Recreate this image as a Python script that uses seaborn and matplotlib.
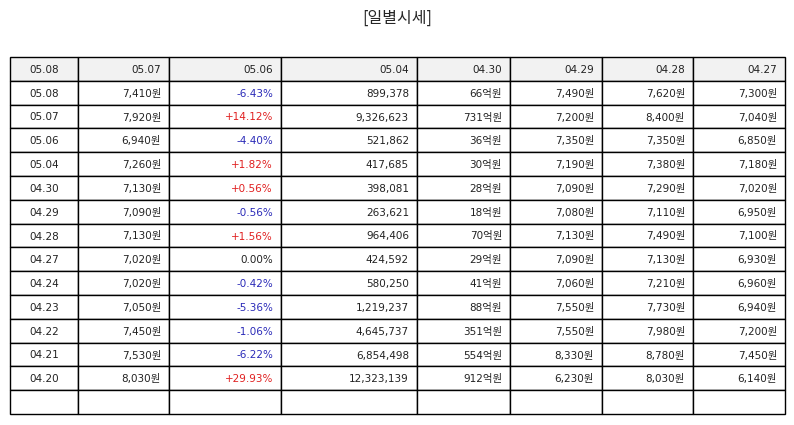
import matplotlib
matplotlib.use('Agg')
import matplotlib.pyplot as plt
import seaborn as sns

sns.set_theme(style='white')
plt.rcParams['font.family'] = ['DejaVu Sans', 'Noto Sans CJK KR']

header = ['05.08', '05.07', '05.06', '05.04', '04.30', '04.29', '04.28', '04.27']
dates = ['05.08', '05.07', '05.06', '05.04', '04.30', '04.29', '04.28', '04.27',
         '04.24', '04.23', '04.22', '04.21', '04.20']
close = ['7,410원', '7,920원', '6,940원', '7,260원', '7,130원', '7,090원', '7,130원',
         '7,020원', '7,020원', '7,050원', '7,450원', '7,530원', '8,030원']
change = ['-6.43%', '+14.12%', '-4.40%', '+1.82%', '+0.56%', '-0.56%', '+1.56%',
          '0.00%', '-0.42%', '-5.36%', '-1.06%', '-6.22%', '+29.93%']
volume = ['899,378', '9,326,623', '521,862', '417,685', '398,081', '263,621', '964,406',
          '424,592', '580,250', '1,219,237', '4,645,737', '6,854,498', '12,323,139']
amount = ['66억원', '731억원', '36억원', '30억원', '28억원', '18억원', '70억원',
          '29억원', '41억원', '88억원', '351억원', '554억원', '912억원']
open_ = ['7,490원', '7,200원', '7,350원', '7,190원', '7,090원', '7,080원', '7,130원',
         '7,090원', '7,060원', '7,550원', '7,550원', '8,330원', '6,230원']
high = ['7,620원', '8,400원', '7,350원', '7,380원', '7,290원', '7,110원', '7,490원',
        '7,130원', '7,210원', '7,730원', '7,980원', '8,780원', '8,030원']
low = ['7,300원', '7,040원', '6,850원', '7,180원', '7,020원', '6,950원', '7,100원',
       '6,930원', '6,960원', '6,940원', '7,200원', '7,450원', '6,140원']

col_widths = [68, 91, 112, 136, 93, 92, 91, 92]

rows = [list(r) for r in zip(dates, close, change, volume, amount, open_, high, low)]
rows.append([''] * 8)

fig = plt.figure(figsize=(7.94, 4.25), dpi=100)
fig.text(0.5, 0.958, '[일별시세]', ha='center', va='center', fontsize=11.5,
         family=['Noto Sans CJK KR', 'DejaVu Sans'])
ax = fig.add_axes([10 / 794, 11 / 425, 775 / 794, 357 / 425])
ax.axis('off')

total = sum(col_widths)
tbl = ax.table(cellText=rows, colLabels=header,
               colWidths=[w / total for w in col_widths],
               bbox=[0, 0, 1, 1])
tbl.auto_set_font_size(False)
for (r, c), cell in tbl.get_celld().items():
    cell.set_edgecolor('black')
    cell.set_linewidth(1.0)
    txt = cell.get_text()
    txt.set_fontsize(7.5)
    txt.set_color('#222222')
    txt.set_va('center_baseline')
    if r == 0:
        cell.set_facecolor('#f2f2f2')
    if c == 0:
        cell._loc = 'center'
        txt.set_ha('center')
    else:
        cell._loc = 'right'
        txt.set_ha('right')
        cell.PAD = 8 / col_widths[c]
    if c == 2 and r >= 1:
        s = txt.get_text()
        if s.startswith('+'):
            txt.set_color('#e02020')
        elif s.startswith('-'):
            txt.set_color('#2a2ab8')

fig.savefig('out.png', dpi=100)
